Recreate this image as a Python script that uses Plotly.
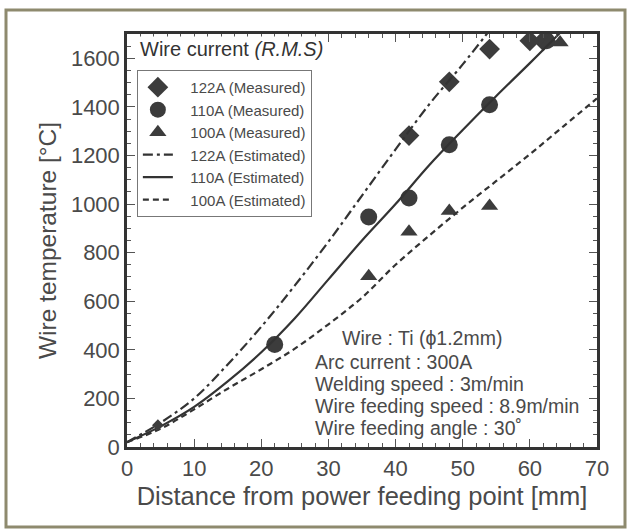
import plotly.graph_objects as go

# ---- Data ----
meas_122_x = [42, 48, 54, 60, 62]
meas_122_y = [1282, 1503, 1638, 1672, 1672]
meas_110_x = [22, 36, 42, 48, 54, 62.5]
meas_110_y = [422, 947, 1025, 1244, 1409, 1672]
meas_100_x = [36, 42, 48, 54, 63, 64.5]
meas_100_y = [703, 886, 971, 992, 1672, 1665]
near_x = [4.6]
near_y = [90]

est_x_122 = [0, 5, 10, 15, 20, 25, 30, 35, 40, 45, 50, 54]
est_y_122 = [20, 100, 200, 340, 495, 665, 845, 1035, 1225, 1410, 1575, 1715]
est_x_110 = [0, 5, 10, 15, 20, 25, 30, 35, 40, 45, 50, 55, 60, 64.5]
est_y_110 = [20, 85, 165, 270, 390, 530, 690, 850, 1000, 1160, 1305, 1445, 1580, 1705]
est_x_100 = [0, 5, 10, 15, 20, 25, 30, 35, 40, 45, 50, 55, 60, 65, 70]
est_y_100 = [20, 75, 155, 240, 320, 405, 505, 615, 750, 870, 985, 1095, 1205, 1320, 1435]

x_ticks = [0, 10, 20, 30, 40, 50, 60, 70]
y_ticks = [0, 200, 400, 600, 800, 1000, 1200, 1400, 1600]

info_lines = ["Wire : Ti (\u03d51.2mm)", "Arc current : 300A", "Welding speed : 3m/min",
              "Wire feeding speed : 8.9m/min", "Wire feeding angle : 30\u02da"]

MK = "#3c3c3c"
LN = "#333333"
TXT = "#4a4a4a"
FONT = "Liberation Sans, Arial, sans-serif"
PAD = "\u00a0\u00a0\u00a0"

fig = go.Figure()
fig.add_trace(go.Scatter(x=meas_122_x, y=meas_122_y, mode="markers", name=PAD + "122A (Measured)",
                         marker=dict(symbol="diamond", size=16, color=MK), cliponaxis=True))
fig.add_trace(go.Scatter(x=meas_110_x, y=meas_110_y, mode="markers", name=PAD + "110A (Measured)",
                         marker=dict(symbol="circle", size=17, color=MK), cliponaxis=True))
fig.add_trace(go.Scatter(x=meas_100_x, y=meas_100_y, mode="markers", name=PAD + "100A (Measured)",
                         marker=dict(symbol="triangle-up", size=15, color=MK), cliponaxis=True))
fig.add_trace(go.Scatter(x=est_x_122, y=est_y_122, mode="lines", name=PAD + "122A (Estimated)",
                         line=dict(color=LN, width=2.2, dash="10px,4px,3px,4px", shape="spline")))
fig.add_trace(go.Scatter(x=est_x_110, y=est_y_110, mode="lines", name=PAD + "110A (Estimated)",
                         line=dict(color=LN, width=2.2, shape="spline")))
fig.add_trace(go.Scatter(x=est_x_100, y=est_y_100, mode="lines", name=PAD + "100A (Estimated)",
                         line=dict(color=LN, width=2.2, dash="6px,4px", shape="spline")))
fig.add_trace(go.Scatter(x=near_x, y=near_y, mode="markers", showlegend=False,
                         marker=dict(symbol="diamond", size=9, color=MK)))

axis_common = dict(showline=True, linecolor="#333333", linewidth=2.5, mirror="ticks",
                   ticks="inside", ticklen=8, tickwidth=1.2, tickcolor="#555555",
                   showgrid=False, zeroline=False,
                   tickfont=dict(family=FONT, size=22, color=TXT))

fig.update_layout(
    width=629, height=531,
    margin=dict(l=127, r=32, t=34, b=84),
    paper_bgcolor="white", plot_bgcolor="white",
    font=dict(family=FONT, color=TXT),
    xaxis=dict(range=[0, 70], tickvals=x_ticks, ticktext=[str(v) for v in x_ticks],
               minor=dict(dtick=2, ticks="inside", ticklen=4, tickcolor="#555555", showgrid=False),
               title=dict(text="Distance from power feeding point [mm]", font=dict(size=25.5, family=FONT, color=TXT), standoff=7),
               **axis_common),
    yaxis=dict(range=[0, 1700], tickvals=y_ticks, ticktext=[str(v) for v in y_ticks],
               minor=dict(dtick=50, ticks="inside", ticklen=4, tickcolor="#555555", showgrid=False),
               title=dict(text="Wire temperature [\u00b0C]", font=dict(size=24.5, family=FONT, color=TXT), standoff=8),
               **axis_common),
    legend=dict(x=0.021, y=0.913, xanchor="left", yanchor="top",
                bgcolor="white", bordercolor="#777777", borderwidth=1,
                font=dict(family=FONT, size=15, color=TXT), tracegroupgap=0),
    showlegend=True,
)

fig.add_annotation(xref="paper", yref="paper", x=(138 - 127) / 470, y=(447 - 49) / 413,
                   xanchor="left", yanchor="middle", showarrow=False,
                   text="Wire current <i>(R.M.S)</i>",
                   font=dict(family=FONT, size=20, color="#333333"),
                   bgcolor="white")

starts = [340, 313, 313, 313, 313]
ys = [338, 362, 384, 406, 428]
for t, sx, sy in zip(info_lines, starts, ys):
    fig.add_annotation(xref="paper", yref="paper", x=(sx - 127) / 470, y=(447 - sy) / 413,
                       xanchor="left", yanchor="middle", showarrow=False, text=t,
                       font=dict(family=FONT, size=19.5, color=TXT))

# outer frame
fig.add_shape(type="rect", xref="paper", yref="paper",
              x0=(6 - 127) / 470, x1=(625 - 127) / 470,
              y0=(447 - 527) / 413, y1=(447 - 10) / 413,
              line=dict(color="#8e8a6e", width=3), layer="below")

fig.write_html("out.html")
